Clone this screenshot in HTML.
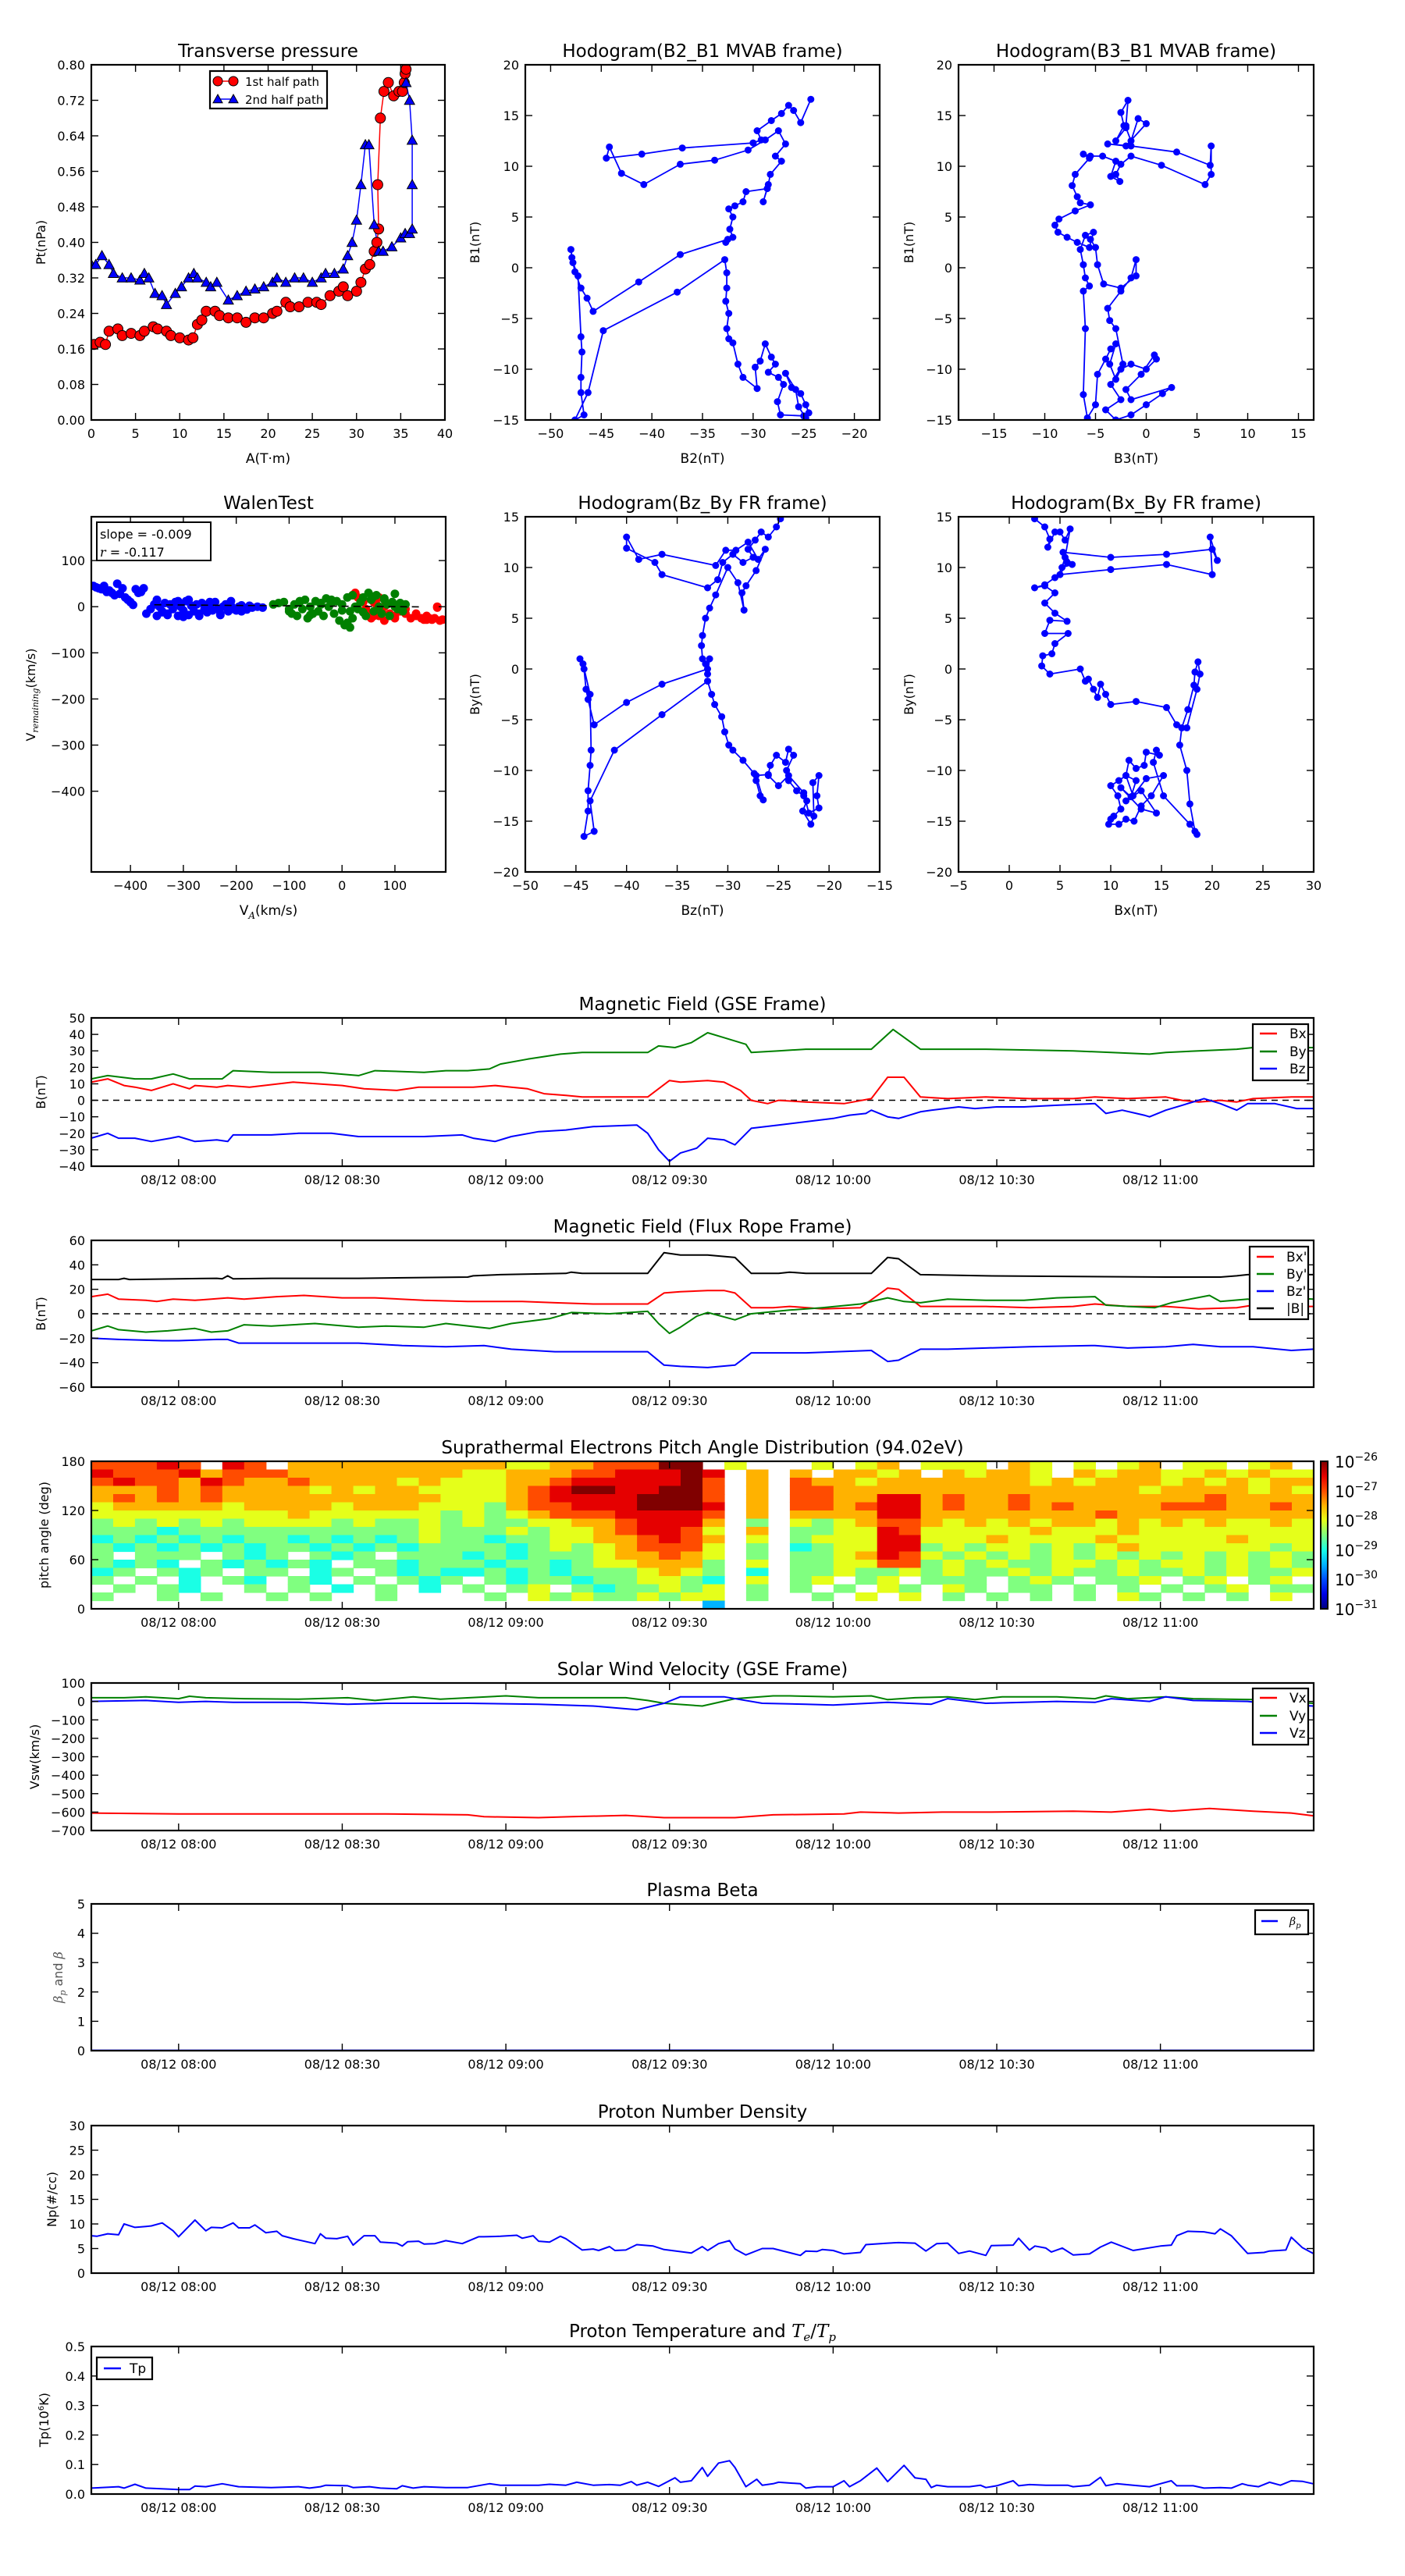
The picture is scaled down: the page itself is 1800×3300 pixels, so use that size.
<!DOCTYPE html>
<html><head><meta charset="utf-8"><title>Flux rope analysis</title>
<style>html,body{margin:0;padding:0;background:#fff}svg{display:block}</style></head>
<body>
<svg id="fig" width="1800" height="3300" viewBox="0 0 1800 3300" xmlns="http://www.w3.org/2000/svg"><rect width="1800" height="3300" fill="#fff"/></svg>
<script>
// ---------------- DATA ----------------
const pressureXTicks=[0,5,10,15,20,25,30,35,40];
const pressureYTicks=[0,0.08,0.16,0.24,0.32,0.40,0.48,0.56,0.64,0.72,0.80];
const p1A=[0.3,1,1.6,2,3,3.5,4.5,5.5,6,7,7.5,8.5,9,10,11,11.5,12,12.5,13,14,14.5,15.5,16.5,17.5,18.5,19.5,20.5,21,22,22.5,23.5,24.5,25.5,26,27,28,28.5,29,30,30.5,31,31.5,32,32.3,32.5,32.4,32.7,33.1,33.6,34.2,34.8,35.2,35.4,35.5,35.6];
const p1P=[0.17,0.175,0.17,0.2,0.205,0.19,0.195,0.19,0.2,0.21,0.205,0.2,0.19,0.185,0.18,0.185,0.215,0.225,0.245,0.245,0.235,0.23,0.23,0.22,0.23,0.23,0.24,0.245,0.265,0.255,0.255,0.265,0.265,0.26,0.28,0.29,0.3,0.28,0.29,0.31,0.34,0.35,0.38,0.4,0.43,0.53,0.68,0.74,0.76,0.73,0.74,0.74,0.76,0.78,0.79];
const p2A=[0,0.5,1.2,2,2.5,3.5,4.5,5.5,6,6.5,7.2,8,8.5,9.5,10.2,11,11.6,12,13,13.5,14.2,15.5,16.5,17.5,18.5,19.5,20.5,21,22,23,24,25,26,26.5,27.5,28.5,29,29.5,30,30.5,31,31.4,32,32.5,33,34,35,35.5,36,36.3,36.3,36.3,36,35.6];
const p2P=[0.35,0.35,0.37,0.35,0.33,0.32,0.32,0.315,0.33,0.32,0.285,0.28,0.26,0.285,0.3,0.32,0.33,0.32,0.31,0.3,0.31,0.27,0.28,0.29,0.295,0.3,0.31,0.32,0.31,0.32,0.32,0.31,0.32,0.33,0.33,0.34,0.37,0.4,0.45,0.53,0.62,0.62,0.44,0.38,0.38,0.39,0.41,0.42,0.42,0.43,0.53,0.63,0.72,0.76];

const h1B2=[-24.3,-25.3,-26,-26.5,-27.2,-28.2,-29.6,-29.2,-30,-37,-41,-44.5,-44.2,-43,-40.8,-37.2,-33.8,-30.5,-28.8,-27.5,-26.8,-27.8,-27.2,-28.3,-28.5,-29,-28.6,-30.7,-31,-31.8,-32.4,-32,-32.3,-32,-32.7,-32.5,-37.2,-41.3,-45.8,-46.4,-47,-47.6,-47.9,-48,-47.8,-47.3,-47,-46.9,-47,-47,-46.7,-47.6,-46.3,-44.8,-37.5,-32.8,-32.6,-32.6,-32.7,-32.4,-32.6,-32.4,-32,-31.5,-31,-29.6,-29.8,-29.3,-28.8,-28.2,-27.8,-28.5,-27.5,-27,-27.6,-27.3,-25,-24.5,-24.8,-25.3,-26.2,-26.8,-25.8,-25.5,-24.8];
const h1B1=[16.6,14.3,15.5,16,15.2,14.5,13.5,12.6,12.3,11.8,11.2,10.8,11.9,9.3,8.2,10.2,10.6,11.6,12.6,13.5,12.2,11,10.5,9.2,8.2,6.5,7.8,7.5,6.5,6.1,5.8,5,3.8,3,2.5,2.8,1.3,-1.4,-4.3,-3,-2,-0.4,1,1.8,0.5,-0.8,-6.8,-8.3,-10.8,-12.3,-14.5,-15,-12.3,-6.2,-2.4,0.8,-0.5,-2,-3.3,-4.5,-6,-7,-7.4,-9.5,-10.8,-11.9,-9.8,-9.2,-7.5,-8.8,-9.5,-10.3,-10.8,-11.5,-13.2,-14.5,-14.6,-14.3,-13.5,-12.4,-11.8,-10.4,-12,-13.7,-14.8];
const h2B3=[-2,-1.8,-2.5,-2.2,-3,-2,-1.5,-0.8,0,-2,-3.8,-1.5,3,6.3,6.4,6.4,5.8,1.5,-1.5,-2.5,-3,-2.6,-3.5,-3,-4.3,-5.5,-6.2,-5.6,-7,-7.3,-6.8,-6.5,-5.5,-7,-8.6,-9,-8.7,-7.8,-6.8,-5.6,-5.2,-6,-6.5,-6.2,-6,-5.6,-6.2,-6,-6.2,-5.8,-5,-4.8,-4,-3.5,-3,-3.6,-3,-2.5,-1.5,0,1,0.8,-0.5,-2,-1.5,2.5,1.6,0,-1.5,-3,-4,-2.5,-3.5,-2.3,-3,-3.6,-3.8,-2.5,-1.5,-1,-1,-2.5,-4.2,-4.8,-5,-5.5];
const h2B1=[14,16.5,15.3,14,12.5,13.8,12.5,14.7,14.2,12,12.2,12,11.4,10.1,12,9.2,8.2,10.1,11,10.2,9.2,8.5,9,10.5,11,11,11.2,10.8,9.2,8.1,7,6.4,6.2,5.6,4.8,4.2,3.5,3,2.5,2,3.5,3.2,1.8,0.3,-1,-1.8,-2.3,-6,-12.5,-14.8,-13.5,-10.5,-9,-8,-7.5,-9.5,-11,-10,-9.5,-10,-9,-8.6,-10.5,-12,-13,-11.8,-12.4,-13.5,-14.5,-15,-14,-13,-11.5,-9.5,-6,-5.2,-4,-2.3,-1,0.8,-0.8,-2,-1.6,0.3,2,2.8];
const h3Bz=[-24.8,-25.2,-26,-26.7,-27.3,-28,-27.5,-28.5,-29.5,-30.5,-31,-32,-36.5,-37.2,-40,-40,-38.8,-36.5,-31.2,-30.2,-29.2,-28,-27,-26.3,-27.2,-28.2,-28.6,-28.4,-29,-30,-31.2,-31.8,-32.2,-32.5,-32.6,-32.5,-32.2,-32,-31.8,-32,-36.5,-40,-43.2,-43.8,-44,-44.2,-44.6,-44.3,-43.6,-43.5,-43.6,-43.8,-43.8,-44.2,-43.2,-43.6,-41.2,-36.5,-32,-31.6,-31.3,-30.6,-30.3,-29.9,-29.5,-28.5,-27.4,-27.2,-26.8,-26.5,-27.2,-26,-25.8,-25.2,-24.3,-24,-23.5,-24.2,-24,-23.2,-22.5,-22.2,-22.6,-21.8,-21.5,-21.6,-21,-21.2,-21,-22,-22.5,-24,-25,-26];
const h3By=[14.8,14,13,13.5,12.7,11.8,11,10.5,11.3,10.5,8.8,8,9.3,10.5,11.9,13,10.8,11.3,10.2,11.7,11.7,12.5,10.8,11.8,9.7,8.2,7.5,5.8,8.5,10,7.3,6,5,3.3,2.3,1,0.5,-0.5,1,0,-1.5,-3.3,-5.5,-3,-2,0,1,0.5,-2.5,-8,-9.5,-12,-14,-16.5,-16,-13,-8,-4.5,-1.2,-2.5,-3.5,-4.7,-6.2,-7.5,-8,-9,-10.3,-11,-12.5,-12.9,-10.5,-10.4,-9.5,-8.5,-9.2,-7.9,-8.5,-10,-11,-12,-12.5,-13,-14,-15.3,-14.5,-11.2,-10.5,-12.5,-13.7,-14.2,-12.2,-10.5,-11.5,-10.5];
const h4Bx=[2.5,3.5,4,3.8,4.5,5,5.5,6,5.5,5.2,6.2,5.3,10,15.5,20,20.5,19.8,20,15.5,10,5,5.7,4.5,3.5,2.5,3.5,4.5,3.5,4.5,5.7,4,3.5,5.8,4.5,4.2,3.3,3.2,4,7,7.5,7.8,8.3,8.7,9,9.5,10,12.5,15.5,16.5,17.5,18.5,18.8,18.6,18.3,18.2,17.6,17,16.8,17.5,17.8,18.3,18.5,17.8,15.2,14.2,14.5,14.8,13.5,13.3,12.5,11.8,11.5,10.8,10,10.7,11,10.3,10,9.8,10.8,11.5,12.3,13,14,15.2,13.5,12.2,11.5,12.5,12,11,13,14.5,13,11.5];
const h4By=[14.8,14,12.8,12,13.5,13.5,12.7,13.8,11,10,10.3,11.5,11,11.3,11.8,10.7,13,9.3,10.3,9.8,9.3,10.5,9,8.3,8,8.2,7.5,6.5,5.5,4.7,4.8,3.5,3.5,2.5,1.5,1.3,0.3,-0.5,0,-1.2,-1,-2,-2.8,-1.5,-2.5,-3.5,-3.2,-3.8,-5.5,-5.8,-2,-0.5,0.7,-0.3,-1.6,-4,-5.8,-7.5,-10,-13.3,-16,-16.3,-15.3,-12.5,-9.2,-8,-8.5,-8.2,-9.5,-9.8,-9,-10.5,-11,-11.5,-12.5,-13.8,-14.5,-14.8,-15.3,-15.3,-14.8,-15,-13.5,-12.5,-10.5,-10.8,-12.5,-10.5,-11,-12.6,-11.7,-13.8,-14.2,-12,-13];

const walenBlueX=[-470,-465,-460,-455,-450,-445,-440,-435,-430,-425,-420,-415,-410,-405,-400,-395,-390,-385,-380,-375,-370,-362,-355,-350,-345,-340,-335,-330,-325,-320,-315,-310,-305,-300,-295,-290,-285,-280,-275,-270,-265,-260,-255,-250,-245,-240,-235,-230,-225,-220,-215,-210,-205,-200,-195,-190,-185,-180,-175,-170,-160,-150,-350,-340,-330,-310,-300,-290,-270,-250,-230,-210,-190];
const walenBlueY=[45,42,40,38,45,32,35,30,25,50,28,40,20,15,10,4,38,30,32,40,-15,-5,5,-20,0,-10,8,-15,5,-5,10,-20,0,-8,12,-18,2,-10,5,-15,8,-5,-12,3,-8,10,-5,-15,0,5,-10,2,-5,-8,0,3,-3,-6,2,-2,0,-2,15,-12,-18,12,-22,15,-20,10,-18,12,-10];
const walenRedX=[20,25,30,35,40,45,50,55,60,65,70,75,80,90,100,110,120,130,140,150,155,160,165,170,175,180,185,190,60,70,80,100,120,140,160,180];
const walenRedY=[25,30,20,15,10,-5,-15,-25,-20,5,20,-10,-30,-15,-20,-10,-5,-25,-15,-25,-28,-20,-25,-28,-25,0,-30,-28,10,-20,0,-25,-15,-20,-28,-2];
const walenGreenX=[-130,-120,-110,-100,-95,-90,-85,-80,-75,-70,-65,-60,-55,-50,-45,-40,-35,-30,-25,-20,-15,-10,-5,0,5,10,15,20,25,30,35,40,45,50,55,60,65,70,75,80,85,90,95,100,105,110,115,120,-100,-80,-60,-40,-20,0,20,40,60,80,100,10,15];
const walenGreenY=[5,8,10,-10,-15,5,-20,10,-5,15,-25,0,-15,12,-10,5,-20,18,0,8,-15,12,-30,5,-40,20,-10,25,0,-5,10,20,-20,30,15,-10,25,0,-15,15,5,-20,10,0,-5,8,-10,5,-5,12,-18,8,15,-8,-25,-12,22,18,28,-35,-45];
const walenSlope=-0.009, walenIntercept=1;

// time series: minutes after 08:00
const timeTicks=[0,30,60,90,120,150,180];
const timeTickLabels=["08/12 08:00","08/12 08:30","08/12 09:00","08/12 09:30","08/12 10:00","08/12 10:30","08/12 11:00"];

const gseByT=[-16,-13,-8,-5,-1,2,8,10,17,26,33,36,45,49,53,57,59,64,70,74,82,86,88,91,94,97,100,104,105,110,115,127,131,136,148,164,171,178,181,187,194,197,208];
const gseByV=[13,15,13,13,16,13,13,18,17,17,15,18,17,18,18,19,22,25,28,29,29,29,33,32,35,41,38,34,29,30,31,31,43,31,31,30,29,28,29,30,31,32,32];
const gseBxT=[-16,-13,-10,-8,-5,-1,2,3,7,9,13,21,30,34,40,44,54,58,61,64,67,71,74,82,86,90,92,97,100,103,105,108,110,115,122,127,130,133,136,141,148,156,164,168,174,181,184,187,191,194,197,204,208];
const gseBxV=[11,13,9,8,6,10,7,9,8,9,8,11,9,7,6,8,8,9,8,7,4,3,2,2,2,12,11,12,11,6,0,-2,0,-1,-2,1,14,14,2,1,2,1,1,2,1,2,0,-1,0,-1,1,2,2];
const gseBzT=[-16,-13,-11,-8,-5,-1.5,0,3,7,9,10,17,22,28,33,40,45,52,54,58,61,66,71,76,84,86,88,90,92,95,97,100,102,105,110,115,120,123,126,127,130,132,136,138,143,146,150,155,161,168,170,173,177,178,181,184,188,191,194,196,201,205,208];
const gseBzV=[-23,-20,-23,-23,-25,-23,-22,-25,-24,-25,-21,-21,-20,-20,-22,-22,-22,-21,-23,-25,-22,-19,-18,-16,-15,-20,-30,-37,-32,-29,-23,-24,-27,-17,-15,-13,-11,-9,-8,-6,-10,-11,-7,-6,-4,-5,-4,-4,-3,-2,-8,-6,-9,-10,-6,-3,1,-2,-6,-2,-2,-5,-5];

const frBT=[-16,-11,-10,-9,7,8,9,10,17,33,53,54,59,71,72,74,86,89,92,97,102,105,110,112,115,127,130,132,136,148,181,191,194,196,208];
const frBV=[28,28,29,28,29,28.5,31,28.5,29,29,30,31,32,33,34,33,33,50,48,48,46,33,33,34,33,33,46,45,32,31,30,30,31,32,32];
const frBxT=[-16,-13,-11,-6,-4,-1,3,6,9,12,18,23,30,36,45,53,63,69,76,86,89,92,97,100,102,105,109,112,118,125,130,132,136,141,148,156,164,168,174,181,187,194,197,200,204,208];
const frBxV=[14,16,12,11,10,12,11,12,13,12,14,15,13,13,11,10,10,9,8,8,17,18,19,19,17,5,5,6,4,5,21,20,6,6,6,5,6,8,6,6,4,5,7,5,6,6];
const frByT=[-16,-13,-11,-6,-2,3,6,9,12,17,25,33,38,45,49,57,61,68,72,79,86,88,90,92,95,97,102,105,112,118,125,130,133,136,141,148,155,161,168,170,174,179,182,189,191,196,201,204,208];
const frByV=[-14,-10,-13,-15,-14,-12,-15,-14,-9,-10,-8,-11,-10,-11,-8,-12,-8,-4,1,0,2,-8,-16,-11,-2,1,-5,0,3,5,8,13,10,9,12,11,11,13,14,7,6,5,9,15,10,12,8,13,12];
const frBzT=[-16,-11,-3,0,7,9,11,17,33,41,49,56,61,69,86,89,92,97,102,105,115,127,130,132,136,141,148,156,168,174,181,186,191,197,204,208];
const frBzV=[-20,-21,-22,-22,-21,-21,-24,-24,-24,-26,-27,-26,-29,-31,-31,-42,-43,-44,-42,-32,-32,-30,-39,-38,-29,-29,-28,-27,-26,-28,-27,-25,-27,-27,-30,-29];

const padRows=[
"77787.87 .6666666 66655667 7799.5.. .5.56.55 5.65.5.5 6.55.56.",
"87778677 76666666 65566677 88898.6. 6.6656.6 5665.656 65565655",
"78776876 67666656 55566788 88897.6. 76656666 66656566 65656566",
"66676766 66565665 55567899 88997.6. 77666666 66666666 56666565",
"67676766 66666666 55567888 89997.6. 77668867 66766666 66676666",
"56666656 66656665 55467788 89998.6. 77678867 66767666 67776676",
"55555555 56555555 45456777 88887.6. 66668866 66666676 66666666",
"45454545 55545445 45445566 78886.4. 54567765 65656656 56565565",
"44434444 44444445 44454556 78875.6. 44558755 55565556 55555555",
"34343434 43434345 44344556 67876.5. 45558855 56555565 55556555",
"43434343 44343434 44434545 67775.4. 34558845 45545456 55555545",
"4.444.43 4.434.44 43434445 66765.4. 44568754 54545454 54545454",
"4343.434 343.4434 44344345 56664.5. 44557745 45445545 45545454",
"34.434.4 4.34.434 33434344 45654.3. 44544545 44545445 44545445",
"4.4.3.43 .43.4.43 4.434434 45543.5. 45.45.44 4.454.44 5.45.45.",
".4.43..4 .4.3.4.3 .4.45.43 44545.4. 4.4.54.5 4.44.4.4 .4.45.44",
"4..4.4.. 4.4..4.. ..4.5454 45455.4. .4.5.5.4 .4.4.4.5 4.4.4.5.",
"........ ........ ........ ....2... ........ ........ ........"];
const padYTicks=[0,60,120,180];
const cbarLabels=["-26","-27","-28","-29","-30","-31"];

const vyT=[-16,-10,-6,0,2,5,12,22,31,36,43,48,60,66,72,82,86,89,96,102,109,112,120,127,130,135,141,146,151,161,168,170,174,181,186,197,208];
const vyV=[20,20,25,15,28,20,15,12,20,5,25,12,30,20,20,20,5,-10,-25,15,30,30,25,30,10,20,25,10,25,25,15,30,15,25,15,10,-10];
const vzT=[-16,-6,0,5,10,22,31,38,43,53,66,76,84,89,92,100,107,115,120,130,138,141,148,155,161,168,171,178,181,186,196,201,208];
const vzV=[0,5,-5,0,-5,-5,-15,-10,-10,-10,-15,-25,-45,-10,25,25,-10,-15,-20,-5,-15,15,-10,-5,0,-5,15,0,25,5,0,-15,-25];
const vxT=[-16,0,17,38,53,56,66,72,82,89,102,109,122,125,132,140,148,164,171,178,182,189,197,204,208];
const vxV=[-605,-610,-610,-610,-615,-625,-630,-625,-618,-630,-630,-615,-610,-600,-605,-600,-600,-595,-600,-585,-595,-580,-595,-605,-620];

const betaT=[-16,30,60,90,120,150,180,208];
const betaV=[0.01,0.01,0.01,0.012,0.01,0.01,0.01,0.01];

const npT=[-16,-15,-13,-11,-10,-8,-6,-5,-3,-1,0,3,5,6,8,10,11,13,14,16,18,19,21,25,26,27,29,31,32,34,36,37,40,41,42,44,45,47,49,52,55,56,59,62,63,65,66,68,70,71,74,76,77,79,80,82,84,87,89,94,96,97,99,101,102,104,107,109,114,115,117,118,120,122,125,126,130,132,135,137,139,141,143,145,148,149,153,154,156,157,159,160,162,164,167,169,171,175,180,182,183,185,188,190,191,193,196,199,200,203,204,206,208];
const npV=[7.6,7.5,8,7.8,10,9.3,9.5,9.6,10.2,8.6,7.4,10.8,8.6,9.3,9.2,10.2,9.2,9.2,9.8,8.2,8.5,7.6,7,6,8,7.1,7,7.5,5.7,7.6,7.6,6.3,6.1,5.5,6.4,6.5,5.9,6,6.6,6,7.4,7.4,7.5,7.7,7.1,7.6,6.5,6.3,7.5,7,4.7,4.9,4.6,5.4,4.6,4.7,5.8,5.5,4.8,4.1,5.4,4.6,6,6.6,4.9,3.7,5,5,3.6,4.5,4.4,4.8,4.6,3.9,4.2,5.8,6.1,6.2,6.1,4.5,6,6.1,4,4.5,3.6,5.6,5.7,7.1,4.7,5.5,5.1,4.3,5.1,3.7,3.9,5.3,6.3,4.6,5.5,5.7,7.6,8.5,8.4,8,9,7.6,4,4.2,4.5,4.7,7.3,5.2,4];

const tpT=[-16,-11,-10,-8,-6,0,2,3,5,8,11,17,22,24,26,27,31,32,35,37,40,41,43,45,49,53,57,59,66,68,71,73,76,79,81,83,84,86,88,91,92,94,96,97,99,101,102,104,106,107,109,110,114,115,117,120,122,123,125,128,130,133,135,137,138,139,141,145,147,148,150,153,154,156,159,163,164,167,169,170,172,175,178,180,182,183,186,188,191,193,195,196,198,200,202,204,206,208];
const tpV=[0.02,0.025,0.02,0.033,0.02,0.015,0.015,0.027,0.025,0.035,0.025,0.022,0.025,0.02,0.025,0.03,0.028,0.022,0.025,0.02,0.018,0.028,0.02,0.025,0.022,0.022,0.035,0.03,0.03,0.033,0.03,0.04,0.03,0.032,0.03,0.042,0.03,0.04,0.026,0.055,0.04,0.045,0.09,0.06,0.105,0.113,0.09,0.025,0.05,0.03,0.035,0.04,0.035,0.02,0.025,0.025,0.045,0.025,0.045,0.088,0.042,0.097,0.055,0.05,0.022,0.03,0.025,0.025,0.03,0.022,0.028,0.045,0.028,0.032,0.03,0.03,0.025,0.03,0.057,0.028,0.035,0.03,0.025,0.035,0.045,0.028,0.028,0.02,0.022,0.02,0.035,0.03,0.025,0.04,0.03,0.045,0.043,0.035];

// ---------------- DRAWING ----------------
const NS='http://www.w3.org/2000/svg';
const FIG=document.getElementById('fig');
const FONT='"DejaVu Sans","Liberation Sans",sans-serif';
const SERIF='"DejaVu Serif","Liberation Serif",serif';
function mk(tag,parent,name,attrs){
  const el=document.createElementNS(NS,tag);
  
  
  for(const k in attrs) el.setAttribute(k,attrs[k]);
  parent.appendChild(el);
  return el;
}
function text(parent,name,x,y,s,size,anchor,rot,extra){
  const t=mk('text',parent,name,{x:x,y:y,'font-size':size,'text-anchor':anchor,'font-family':FONT,fill:'#000'});
  if(rot) t.setAttribute('transform','rotate(-90 '+x+' '+y+')');
  if(extra) for(const k in extra) t.setAttribute(k,extra[k]);
  t.textContent=s;
  return t;
}
function tspan(parent,name,s,attrs){
  const t=mk('tspan',parent,name,attrs||{});
  t.textContent=s;
  return t;
}
let clipN=0;
function axes(name,x0,y0,x1,y1,xd,yd){
  const g=mk('g',FIG,name,{});
  const id='clip'+(clipN++);
  const cp=mk('clipPath',g,name+'-clip',{id:id});
  mk('rect',cp,name+'-clip-rect',{x:x0,y:y0,width:x1-x0,height:y1-y0});
  const plot=mk('g',g,name+'-plot-area',{'clip-path':'url(#'+id+')'});
  const frame=mk('g',g,name+'-frame',{});
  mk('rect',frame,name+'-border',{x:x0,y:y0,width:x1-x0,height:y1-y0,fill:'none',stroke:'#000','stroke-width':2.2});
  const sx=v=>x0+(v-xd[0])/(xd[1]-xd[0])*(x1-x0);
  const sy=v=>y1-(v-yd[0])/(yd[1]-yd[0])*(y1-y0);
  return {g,plot,frame,sx,sy,x0,y0,x1,y1,name};
}
function fmtMinus(s){return String(s).replace('-','\u2212');}
function xTicks(ax,vals,labels){
  vals.forEach((v,i)=>{
    const x=ax.sx(v);
    mk('line',ax.frame,ax.name+'-xtick',{x1:x,x2:x,y1:ax.y1,y2:ax.y1-9,stroke:'#000','stroke-width':1.4});
    mk('line',ax.frame,ax.name+'-xtick-top',{x1:x,x2:x,y1:ax.y0,y2:ax.y0+9,stroke:'#000','stroke-width':1.4});
    text(ax.g,ax.name+'-xtick-label',x,ax.y1+23,fmtMinus(labels[i]),16,'middle');
  });
}
function yTicks(ax,vals,labels){
  vals.forEach((v,i)=>{
    const y=ax.sy(v);
    mk('line',ax.frame,ax.name+'-ytick',{x1:ax.x0,x2:ax.x0+9,y1:y,y2:y,stroke:'#000','stroke-width':1.4});
    mk('line',ax.frame,ax.name+'-ytick-right',{x1:ax.x1,x2:ax.x1-9,y1:y,y2:y,stroke:'#000','stroke-width':1.4});
    text(ax.g,ax.name+'-ytick-label',ax.x0-8,y+6,fmtMinus(labels[i]),16,'end');
  });
}
function title(ax,s){return text(ax.g,ax.name+'-title',(ax.x0+ax.x1)/2,ax.y0-10,s,23,'middle');}
function ylabel(ax,x,s){return text(ax.g,ax.name+'-y-axis-title',x,(ax.y0+ax.y1)/2,s,16,'middle',true);}
function xlabel(ax,y,s){return text(ax.g,ax.name+'-x-axis-title',(ax.x0+ax.x1)/2,y,s,17,'middle');}
function line(ax,name,xs,ys,color,w){
  const n=Math.min(xs.length,ys.length);
  let d='';
  for(let i=0;i<n;i++) d+=(i?'L':'M')+ax.sx(xs[i]).toFixed(1)+' '+ax.sy(ys[i]).toFixed(1);
  return mk('path',ax.plot,name,{d:d,fill:'none',stroke:color,'stroke-width':w||2,'stroke-linejoin':'round'});
}
function dots(ax,name,xs,ys,color,r,edge){
  const n=Math.min(xs.length,ys.length);
  for(let i=0;i<n;i++){
    mk('circle',ax.plot,name,{cx:ax.sx(xs[i]).toFixed(1),cy:ax.sy(ys[i]).toFixed(1),r:r,fill:color,stroke:edge||color,'stroke-width':1});
  }
}
function triPath(cx,cy,s){return 'M'+cx+' '+(cy-s)+'L'+(cx+s)+' '+(cy+s*0.8)+'L'+(cx-s)+' '+(cy+s*0.8)+'Z';}
function tris(ax,name,xs,ys,color,s){
  const n=Math.min(xs.length,ys.length);
  for(let i=0;i<n;i++){
    mk('path',ax.plot,name,{d:triPath(ax.sx(xs[i]),ax.sy(ys[i]),s),fill:color,stroke:'#000','stroke-width':1});
  }
}
function hline(ax,name,v){
  const y=ax.sy(v);
  mk('line',ax.plot,name,{x1:ax.x0,x2:ax.x1,y1:y,y2:y,stroke:'#000','stroke-width':1.5,'stroke-dasharray':'8,6'});
}
function legend(ax,name,x0,y0,x1,y1,items){
  const g=mk('g',ax.g,name,{});
  mk('rect',g,name+'-box',{x:x0,y:y0,width:x1-x0,height:y1-y0,fill:'#fff',stroke:'#000','stroke-width':2.2});
  items.forEach(it=>{
    mk('line',g,name+'-entry-line',{x1:x0+9,x2:x0+31,y1:it.y,y2:it.y,stroke:it.c,'stroke-width':2.5});
    const t=text(g,name+'-entry-label',x0+47,it.y+6,it.s,17,'start');
    if(it.italic) t.setAttribute('font-style','italic');
  });
  return g;
}

// ---- Transverse pressure ----
const axP=axes('transverse-pressure-chart',117,83,570,538,[0,40],[0,0.8]);
line(axP,'series-1st-half-line',p1A,p1P,'#ff0000',1.5);
line(axP,'series-2nd-half-line',p2A,p2P,'#0000ff',1.5);
dots(axP,'series-1st-half-point',p1A,p1P,'#ff0000',6.5,'#000');
tris(axP,'series-2nd-half-point',p2A,p2P,'#0000ff',6.5);
xTicks(axP,pressureXTicks,pressureXTicks.map(v=>String(v)));
yTicks(axP,pressureYTicks,pressureYTicks.map(v=>v.toFixed(2)));
title(axP,'Transverse pressure');
ylabel(axP,58,'Pt(nPa)');
xlabel(axP,593,'A(T\u00b7m)');
(function(){
  const g=mk('g',axP.g,'pressure-legend',{});
  mk('rect',g,'pressure-legend-box',{x:269,y:91,width:150,height:48,fill:'#fff',stroke:'#000','stroke-width':2.2});
  mk('line',g,'legend-1st-half-line',{x1:279,x2:299,y1:104,y2:104,stroke:'#f00','stroke-width':1.5});
  mk('circle',g,'legend-1st-half-marker',{cx:279,cy:104,r:6,fill:'#f00',stroke:'#000'});
  mk('circle',g,'legend-1st-half-marker',{cx:299,cy:104,r:6,fill:'#f00',stroke:'#000'});
  text(g,'legend-1st-half-label',314,110,'1st half path',15,'start');
  mk('line',g,'legend-2nd-half-line',{x1:279,x2:299,y1:127,y2:127,stroke:'#00f','stroke-width':1.5});
  mk('path',g,'legend-2nd-half-marker',{d:triPath(279,127,6),fill:'#00f',stroke:'#000'});
  mk('path',g,'legend-2nd-half-marker',{d:triPath(299,127,6),fill:'#00f',stroke:'#000'});
  text(g,'legend-2nd-half-label',314,133,'2nd half path',15,'start');
})();

// ---- Hodograms ----
function hodo(name,x0,y0,x1,y1,xd,yd,xs,ys,xt,yt,tt,xl,yl,ylx){
  const ax=axes(name,x0,y0,x1,y1,xd,yd);
  line(ax,name+'-path',xs,ys,'#0000ff',1.8);
  dots(ax,name+'-point',xs,ys,'#0000ff',4);
  xTicks(ax,xt,xt.map(v=>String(v)));
  yTicks(ax,yt,yt.map(v=>String(v)));
  title(ax,tt); xlabel(ax,y1+55,xl); ylabel(ax,ylx,yl);
  return ax;
}
const hodoB1Ticks=[-15,-10,-5,0,5,10,15,20];
hodo('hodogram-b2-b1',673,83,1127,538,[-52.5,-17.5],[-15,20],h1B2,h1B1,[-50,-45,-40,-35,-30,-25,-20],hodoB1Ticks,'Hodogram(B2_B1 MVAB frame)','B2(nT)','B1(nT)',614);
hodo('hodogram-b3-b1',1228,83,1683,538,[-18.5,16.5],[-15,20],h2B3,h2B1,[-15,-10,-5,0,5,10,15],hodoB1Ticks,'Hodogram(B3_B1 MVAB frame)','B3(nT)','B1(nT)',1170);
const hodoByTicks=[-20,-15,-10,-5,0,5,10,15];
hodo('hodogram-bz-by',673,662,1127,1117,[-50,-15],[-20,15],h3Bz,h3By,[-50,-45,-40,-35,-30,-25,-20,-15],hodoByTicks,'Hodogram(Bz_By FR frame)','Bz(nT)','By(nT)',614);
hodo('hodogram-bx-by',1228,662,1683,1117,[-5,30],[-20,15],h4Bx,h4By,[-5,0,5,10,15,20,25,30],hodoByTicks,'Hodogram(Bx_By FR frame)','Bx(nT)','By(nT)',1170);

// ---- Walen test ----
const axW=axes('walen-test-chart',117,662,571,1117,[-474,196],[-575,195]);
dots(axW,'walen-red-point',walenRedX,walenRedY,'#ff0000',5);
dots(axW,'walen-green-point',walenGreenX,walenGreenY,'#008000',5);
dots(axW,'walen-blue-point',walenBlueX,walenBlueY,'#0000ff',5);
mk('line',axW.plot,'walen-fit-line',{x1:axW.sx(-355),x2:axW.sx(150),y1:axW.sy(walenSlope*-355+walenIntercept),y2:axW.sy(walenSlope*150+walenIntercept),stroke:'#000','stroke-width':1.6,'stroke-dasharray':'9,6'});
const walenTicks=[-400,-300,-200,-100,0,100];
xTicks(axW,walenTicks,walenTicks.map(String));
yTicks(axW,walenTicks,walenTicks.map(String));
title(axW,'WalenTest');
(function(){
  const t=text(axW.g,'walen-x-axis-title',344,1172,'V',17,'middle');
  tspan(t,'walen-x-sub','A',{'font-size':12,'font-style':'italic','font-family':SERIF,dy:5});
  tspan(t,'walen-x-unit','(km/s)',{dy:-5});
  const y=text(axW.g,'walen-y-axis-title',45,890,'V',16,'middle',true);
  tspan(y,'walen-y-sub','remaining',{'font-size':11,'font-style':'italic','font-family':SERIF,dy:4});
  tspan(y,'walen-y-unit','(km/s)',{dy:-4});
  const g=mk('g',axW.g,'walen-stats-box',{});
  mk('rect',g,'walen-stats-border',{x:124,y:669,width:146,height:49,fill:'#fff',stroke:'#000','stroke-width':2});
  text(g,'walen-slope-text',128,690,'slope = -0.009',16,'start');
  const r=text(g,'walen-r-text',128,713,'',16,'start');
  tspan(r,'walen-r-symbol','r',{'font-style':'italic','font-family':SERIF});
  tspan(r,'walen-r-value',' = -0.117',{});
})();

// ---- Time series helper ----
const TD=[-16,208.1];
function tsAxes(name,y0,y1,yd,yt,tt,yl,ylx){
  const ax=axes(name,117,y0,1683,y1,TD,yd);
  xTicks(ax,timeTicks,timeTickLabels);
  yTicks(ax,yt,yt.map(v=>String(v)));
  if(tt) title(ax,tt);
  if(yl) ylabel(ax,ylx,yl);
  return ax;
}

// GSE
const gseTicks=[-40,-30,-20,-10,0,10,20,30,40,50];
const axG=tsAxes('magnetic-field-gse-chart',1304,1494,[-40,50],gseTicks,'Magnetic Field (GSE Frame)','B(nT)',58);
hline(axG,'zero-line',0);
line(axG,'series-bx',gseBxT,gseBxV,'#ff0000');
line(axG,'series-by',gseByT,gseByV,'#008000');
line(axG,'series-bz',gseBzT,gseBzV,'#0000ff');
legend(axG,'gse-legend',1605,1312,1676,1384,[{y:1324,c:'#f00',s:'Bx'},{y:1347,c:'#008000',s:'By'},{y:1369,c:'#00f',s:'Bz'}]);

// Flux rope
const frTicks=[-60,-40,-20,0,20,40,60];
const axF=tsAxes('magnetic-field-flux-rope-chart',1589,1777,[-60,60],frTicks,'Magnetic Field (Flux Rope Frame)','B(nT)',58);
hline(axF,'zero-line',0);
line(axF,'series-bx-prime',frBxT,frBxV,'#ff0000');
line(axF,'series-by-prime',frByT,frByV,'#008000');
line(axF,'series-bz-prime',frBzT,frBzV,'#0000ff');
line(axF,'series-b-magnitude',frBT,frBV,'#000000');
legend(axF,'flux-rope-legend',1601,1597,1676,1690,[{y:1610,c:'#f00',s:"Bx'"},{y:1632,c:'#008000',s:"By'"},{y:1654,c:'#00f',s:"Bz'"},{y:1676,c:'#000',s:'|B|'}]);

// PAD heatmap
function jet(v){
  const cl=x=>Math.max(0,Math.min(1,x));
  const r=cl(1.5-Math.abs(4*v-3)),g=cl(1.5-Math.abs(4*v-2)),b=cl(1.5-Math.abs(4*v-1));
  return 'rgb('+Math.round(r*255)+','+Math.round(g*255)+','+Math.round(b*255)+')';
}
const axD=axes('pitch-angle-distribution-chart',117,1872,1683,2061,[0,56],[0,180]);
(function(){
  const rows=padRows.map(s=>s.replace(/ /g,''));
  const nr=rows.length;
  rows.forEach((row,ri)=>{
    for(let ci=0;ci<row.length;ci++){
      const ch=row[ci];
      if(ch==='.') continue;
      const lv=parseInt(ch,10);
      const x0=axD.sx(ci),x1=axD.sx(ci+1);
      const yTop=axD.sy(180-ri*180/nr),yBot=axD.sy(180-(ri+1)*180/nr);
      const cell=mk('rect',axD.plot,'pad-cell',{x:x0.toFixed(1),y:yTop.toFixed(1),width:(x1-x0+0.6).toFixed(1),height:(yBot-yTop+0.6).toFixed(1),fill:jet(0.1+0.1*lv)});
      cell.setAttribute('data-level',lv);
    }
  });
})();
// x ticks on time scale for PAD
timeTicks.forEach((v,i)=>{
  const x=117+(v-TD[0])/(TD[1]-TD[0])*(1683-117);
  mk('line',axD.frame,'pad-xtick',{x1:x,x2:x,y1:2061,y2:2052,stroke:'#000','stroke-width':1.4});
  mk('line',axD.frame,'pad-xtick-top',{x1:x,x2:x,y1:1872,y2:1881,stroke:'#000','stroke-width':1.4});
  text(axD.g,'pad-xtick-label',x,2084,timeTickLabels[i],16,'middle');
});
yTicks(axD,padYTicks,padYTicks.map(String));
title(axD,'Suprathermal Electrons Pitch Angle Distribution (94.02eV)');
ylabel(axD,62,'pitch angle (deg)');
(function(){
  const defs=mk('defs',FIG,'colorbar-defs',{});
  const lg=mk('linearGradient',defs,'colorbar-gradient',{id:'jetgrad',x1:0,y1:1,x2:0,y2:0});
  for(let i=0;i<=10;i++){
    mk('stop',lg,'colorbar-stop',{offset:(i/10),'stop-color':jet(i/10)});
  }
  const g=mk('g',FIG,'colorbar',{});
  mk('rect',g,'colorbar-fill',{x:1692,y:1872,width:9,height:189,fill:'url(#jetgrad)',stroke:'#000','stroke-width':2});
  cbarLabels.forEach((s,i)=>{
    const y=1872+i*189/5;
    const t=text(g,'colorbar-tick-label',1710,y+8,'10',20,'start');
    tspan(t,'colorbar-exponent',fmtMinus(s),{'font-size':14,dy:-9});
  });
})();

// Velocity
const velTicks=[-700,-600,-500,-400,-300,-200,-100,0,100];
const axV=tsAxes('solar-wind-velocity-chart',2156,2345,[-700,100],velTicks,'Solar Wind Velocity (GSE Frame)','Vsw(km/s)',50);
line(axV,'series-vx',vxT,vxV,'#ff0000');
line(axV,'series-vy',vyT,vyV,'#008000');
line(axV,'series-vz',vzT,vzV,'#0000ff');
legend(axV,'velocity-legend',1605,2163,1676,2235,[{y:2175,c:'#f00',s:'Vx'},{y:2198,c:'#008000',s:'Vy'},{y:2220,c:'#00f',s:'Vz'}]);

// Plasma beta
const betaTicks=[0,1,2,3,4,5];
const axB=tsAxes('plasma-beta-chart',2439,2627,[0,5],betaTicks,'Plasma Beta',null,0);
line(axB,'series-beta-p',betaT,betaV,'#0000ff');
(function(){
  const t=text(axB.g,'beta-y-axis-title',80,2533,'',16,'middle',true,{fill:'#555'});
  tspan(t,'beta-symbol','\u03b2',{'font-style':'italic','font-family':SERIF});
  tspan(t,'beta-sub','p',{'font-size':11,'font-style':'italic','font-family':SERIF,dy:4});
  tspan(t,'beta-and',' and ',{dy:-4});
  tspan(t,'beta-symbol-2','\u03b2',{'font-style':'italic','font-family':SERIF});
  const g=mk('g',axB.g,'beta-legend',{});
  mk('rect',g,'beta-legend-box',{x:1608,y:2447,width:68,height:31,fill:'#fff',stroke:'#000','stroke-width':2.2});
  mk('line',g,'beta-legend-line',{x1:1616,x2:1637,y1:2461,y2:2461,stroke:'#00f','stroke-width':2.5});
  const l=text(g,'beta-legend-label',1652,2466,'\u03b2',14,'start',false,{'font-style':'italic','font-family':SERIF});
  tspan(l,'beta-legend-sub','p',{'font-size':10,dy:4});
})();

// Density
const npTicks=[0,5,10,15,20,25,30];
const axN=tsAxes('proton-density-chart',2723,2912,[0,30],npTicks,'Proton Number Density','Np(#/cc)',72);
line(axN,'series-np',npT,npV,'#0000ff');

// Temperature
const tpTicks=[0,0.1,0.2,0.3,0.4,0.5];
const axT=axes('proton-temperature-chart',117,3006,1683,3195,TD,[0,0.5]);
xTicks(axT,timeTicks,timeTickLabels);
yTicks(axT,tpTicks,tpTicks.map(v=>v.toFixed(1)));
line(axT,'series-tp',tpT,tpV,'#0000ff');
(function(){
  const t=text(axT.g,'proton-temperature-title',900,2994,'Proton Temperature and ',23,'middle');
  tspan(t,'title-te','T',{'font-style':'italic','font-family':SERIF});
  tspan(t,'title-te-sub','e',{'font-size':15,'font-style':'italic','font-family':SERIF,dy:5});
  tspan(t,'title-slash','/',{dy:-5,'font-family':SERIF});
  tspan(t,'title-tp','T',{'font-style':'italic','font-family':SERIF});
  tspan(t,'title-tp-sub','p',{'font-size':15,'font-style':'italic','font-family':SERIF,dy:5});
  const y=text(axT.g,'tp-y-axis-title',62,3100,'Tp(10',16,'middle',true);
  tspan(y,'tp-y-exp','6',{'font-size':10,dy:-6});
  tspan(y,'tp-y-unit','K)',{dy:6});
  const g=mk('g',axT.g,'tp-legend',{});
  mk('rect',g,'tp-legend-box',{x:124,y:3020,width:71,height:28,fill:'#fff',stroke:'#000','stroke-width':2.2});
  mk('line',g,'tp-legend-line',{x1:133,x2:155,y1:3034,y2:3034,stroke:'#00f','stroke-width':2.5});
  text(g,'tp-legend-label',166,3040,'Tp',17,'start');
})();
</script>
</body></html>
